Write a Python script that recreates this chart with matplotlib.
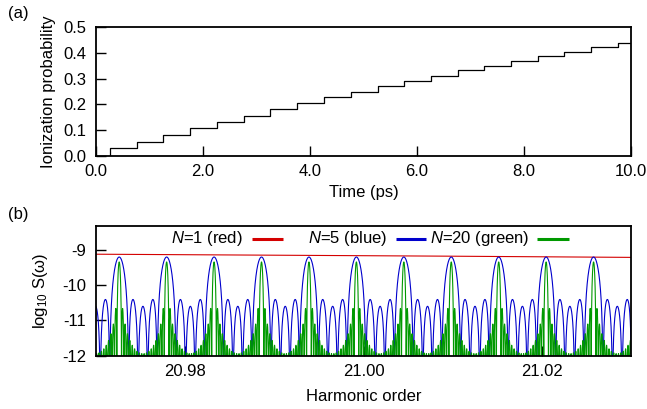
import numpy as np
import matplotlib
matplotlib.use("Agg")
import matplotlib.pyplot as plt

plt.rcParams['font.family'] = ['Liberation Sans', 'DejaVu Sans']
plt.rcParams['mathtext.fontset'] = 'custom'
plt.rcParams['mathtext.rm'] = 'Liberation Sans'
plt.rcParams['mathtext.it'] = 'Liberation Sans:italic'
plt.rcParams['font.size'] = 12
plt.rcParams['axes.unicode_minus'] = False

# ---------------- panel (a): ionization probability steps ----------------
step_times = [0.26, 0.76, 1.26, 1.76, 2.26, 2.76, 3.26, 3.76, 4.26, 4.77,
              5.27, 5.76, 6.26, 6.76, 7.26, 7.76, 8.26, 8.75, 9.25, 9.75]
step_levels = [0.030, 0.055, 0.081, 0.107, 0.133, 0.156, 0.182, 0.205, 0.228, 0.249,
               0.270, 0.292, 0.311, 0.332, 0.350, 0.368, 0.386, 0.404, 0.421, 0.439]
t_start, t_end = 0.0, 10.0
a_xticks = [0, 2, 4, 6, 8, 10]
a_yticks = [0.0, 0.1, 0.2, 0.3, 0.4, 0.5]

# ---------------- panel (b): harmonic spectra ----------------
# read peak centres of the pulse-train comb (harmonic order)
peak_centres = [20.9726, 20.9779, 20.9832, 20.9886, 20.9939, 20.9992,
                21.0045, 21.0098, 21.0152, 21.0205, 21.0258]
n_pulses = [5, 20]
peak_heights = [-9.20, -9.34]          # log10 S at comb peaks (blue, green)
red_x = [20.97, 21.00, 21.03]
red_y = [-9.12, -9.16, -9.21]
b_xticks = [20.98, 21.00, 21.02]
b_yticks = [-9, -10, -11, -12]
legend_labels = ['$N$=1 (red)', '$N$=5 (blue)', '$N$=20 (green)']
colors = ['#d40000', '#0000cc', '#009900']

fig = plt.figure(figsize=(6.47, 4.09), dpi=100)
axA = fig.add_axes([0.1484, 0.6186, 0.8269, 0.3154])
axB = fig.add_axes([0.1484, 0.1303, 0.8269, 0.3171])

# panel (a)
tx = [t_start] + step_times + [t_end]
ty = [0.0] + step_levels + [step_levels[-1]]
axA.step(tx, ty, where='post', color='black', lw=0.9)
axA.set_xlim(0, 10)
axA.set_ylim(0, 0.5)
axA.set_xticks(a_xticks)
axA.set_xticklabels([f'{v:.1f}' for v in a_xticks])
axA.set_yticks(a_yticks)
axA.set_yticklabels([f'{v:.1f}' for v in a_yticks])
axA.set_xlabel('Time (ps)', labelpad=4)
axA.set_ylabel('Ionization probability', labelpad=5)

# panel (b)
x = np.linspace(20.97, 21.03, 24001)
d = np.mean(np.diff(peak_centres))
x0 = peak_centres[0]
axB.plot(x, np.interp(x, red_x, red_y), color=colors[0], lw=0.8)
phase = np.pi * (x - x0) / d
for N, h, c in zip(n_pulses, peak_heights, colors[1:]):
    num = np.sin(N * phase) ** 2
    den = (N ** 2) * np.sin(phase) ** 2
    with np.errstate(divide='ignore', invalid='ignore'):
        s = np.where(den < 1e-14, 1.0, num / np.maximum(den, 1e-300))
        y = h + np.log10(np.maximum(s, 1e-8))
    axB.plot(x, y, color=c, lw=0.8)
axB.set_xlim(20.97, 21.03)
axB.set_ylim(-12, -8.32)
axB.set_xticks(b_xticks)
axB.set_xticklabels([f'{v:.2f}' for v in b_xticks])
axB.set_yticks(b_yticks)
axB.set_xlabel('Harmonic order', labelpad=7)
axB.set_ylabel('log$_{10}$ S(ω)', labelpad=9)

# gnuplot style key: text then sample line
text_ends = [0.2748, 0.5434, 0.8093]
line_starts = [0.2916, 0.5607, 0.8237]
line_ends = [0.3495, 0.6168, 0.8847]
key_y = 0.90
for lab, c, te, ls, le in zip(legend_labels, colors, text_ends, line_starts, line_ends):
    axB.text(te, key_y, lab, transform=axB.transAxes, ha='right', va='center')
    axB.plot([ls, le], [key_y, key_y], transform=axB.transAxes, color=c, lw=2.2,
             solid_capstyle='butt', clip_on=False)

for ax in (axA, axB):
    for sp in ax.spines.values():
        sp.set_linewidth(1.3)
    ax.tick_params(direction='in', length=7, width=1.0, top=False, right=False)
    ax.tick_params(axis='y', pad=7)
    ax.tick_params(axis='x', pad=6)

fig.text(0.013, 0.968, '(a)', ha='left', va='center', fontsize=12)
fig.text(0.013, 0.475, '(b)', ha='left', va='center', fontsize=12)

fig.savefig('out.png', dpi=100)
